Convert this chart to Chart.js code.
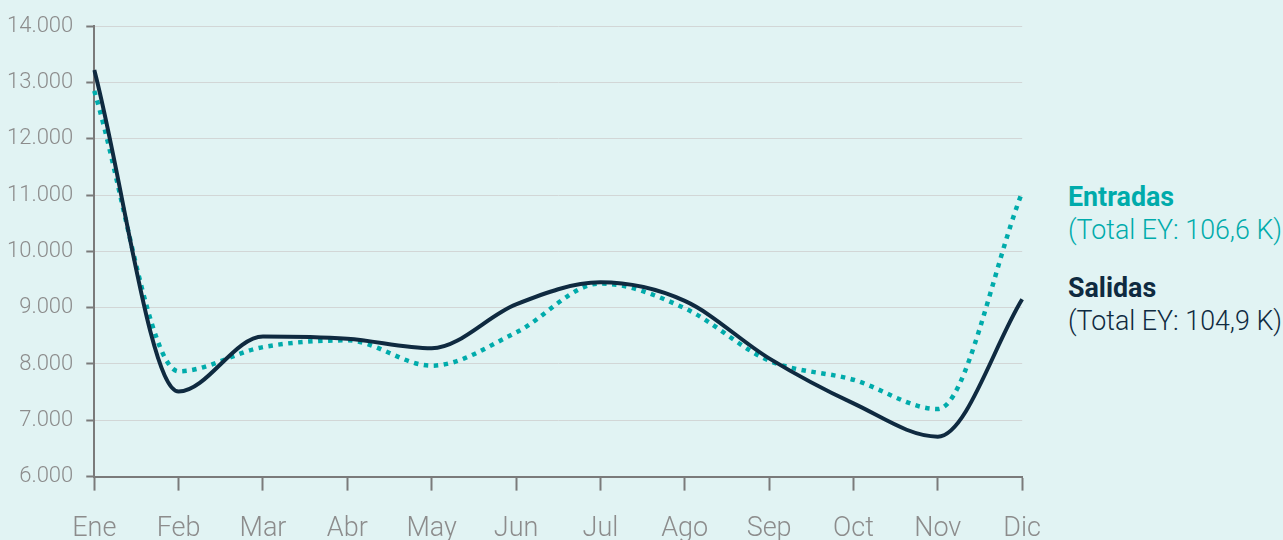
<!DOCTYPE html>
<html lang="es">
<head>
<meta charset="utf-8">
<title>Entradas y Salidas</title>
<script src="https://cdn.jsdelivr.net/npm/chart.js@4.4.1/dist/chart.umd.min.js"></script>
<style>
  html, body { margin: 0; padding: 0; background: #e1f3f3; }
  #wrap { position: relative; width: 1283px; height: 540px; overflow: hidden; }
  #chart-box { position: absolute; left: 0; top: 0; width: 1063px; height: 567px; }
  .legend { position: absolute; left: 1068px; font-family: Roboto, sans-serif; font-size: 26.8px; line-height: 33px; white-space: nowrap; }
  .legend b { font-weight: 700; display: block; }
  .legend span { font-weight: 300; display: block; }
  #leg-in { top: 181px; color: #00abab; }
  #leg-out { top: 272px; color: #0f2a40; }
</style>
</head>
<body>
<div id="wrap">
  <div id="chart-box"><canvas id="flowChart"></canvas></div>
  <div class="legend" id="leg-in"><b>Entradas</b><span>(Total EY: 106,6 K)</span></div>
  <div class="legend" id="leg-out"><b>Salidas</b><span>(Total EY: 104,9 K)</span></div>
</div>
<script>
"use strict";

// ----- data ---------------------------------------------------------------- //
const MONTHS   = ["Ene", "Feb", "Mar", "Abr", "May", "Jun", "Jul", "Ago", "Sep", "Oct", "Nov", "Dic"];
const ENTRADAS = [12850, 7870, 8300, 8420, 7970, 8560, 9430, 8990, 8060, 7720, 7200, 11050];
const SALIDAS  = [13220, 7510, 8490, 8450, 8280, 9060, 9450, 9120, 8100, 7300, 6710, 9150];

const TEAL = "#00abab";
const NAVY = "#0f2a40";
const AXIS_GREY = "#7a7a7a";
const TEXT_GREY = "#8c8c8c";

function thousands(v) {
  return String(v).replace(/\B(?=(\d{3})+(?!\d))/g, ".");
}

// ----- chart --------------------------------------------------------------- //
new Chart(document.getElementById("flowChart"), {
  type: "line",
  data: {
    labels: MONTHS,
    datasets: [
      {
        label: "Salidas",
        data: SALIDAS,
        borderColor: NAVY,
        borderWidth: 4,
        pointRadius: 0,
        cubicInterpolationMode: "monotone",
        fill: false,
      },
      {
        label: "Entradas",
        data: ENTRADAS,
        borderColor: TEAL,
        borderWidth: 4.5,
        borderDash: [4.5, 5.5],
        borderCapStyle: "butt",
        pointRadius: 0,
        cubicInterpolationMode: "monotone",
        fill: false,
      },
    ],
  },
  options: {
    responsive: true,
    maintainAspectRatio: false,
    animation: false,
    layout: { padding: { top: 19, right: 5, left: -6, bottom: 0 } },
    plugins: { legend: { display: false }, tooltip: { enabled: false } },
    scales: {
      x: {
        offset: false,
        border: { display: true, color: AXIS_GREY, width: 2 },
        grid: { display: true, drawOnChartArea: false, drawTicks: true,
                tickLength: 14, tickColor: AXIS_GREY, tickWidth: 2 },
        ticks: { color: TEXT_GREY, padding: 22, maxRotation: 0,
                 font: { family: "Roboto", size: 27, weight: "300" } },
      },
      y: {
        min: 6000,
        max: 14000,
        border: { display: true, color: AXIS_GREY, width: 2 },
        grid: { color: "#d2d6d6", lineWidth: 1, drawTicks: true,
                tickLength: 8, tickColor: AXIS_GREY, tickWidth: 2 },
        ticks: { stepSize: 1000, color: TEXT_GREY, padding: 13,
                 callback: v => thousands(v),
                 font: { family: "Roboto", size: 22, weight: "300" } },
      },
    },
  },
});
</script>
</body>
</html>
